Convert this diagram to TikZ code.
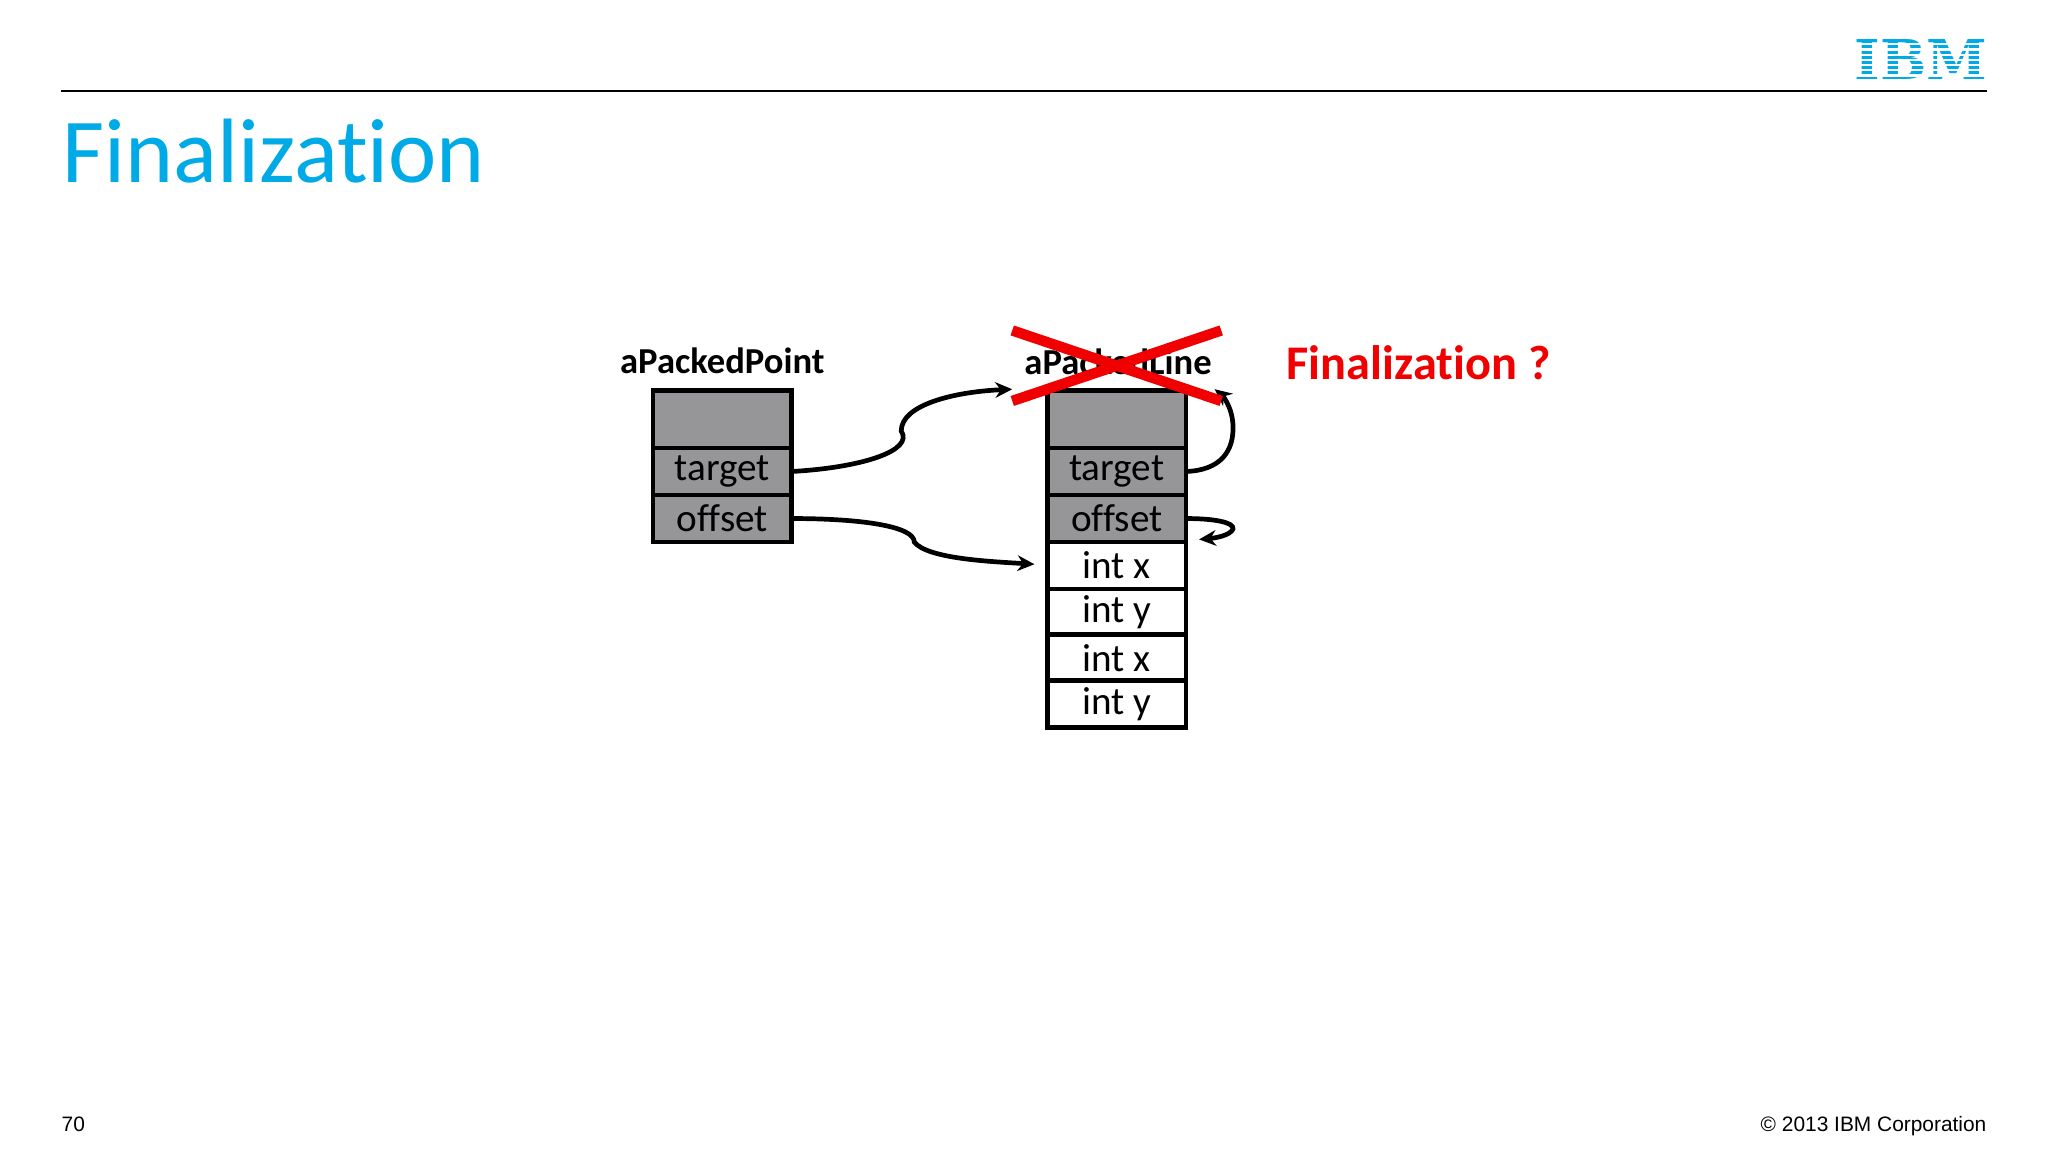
\documentclass[tikz,border=0pt]{standalone}
\usepackage{fontspec}
\setmainfont[Ligatures={NoCommon,NoRare}]{Carlito}
\newfontfamily\arialf{Liberation Sans}
\usetikzlibrary{arrows.meta}
\definecolor{ibmblue}{RGB}{0,170,230}
\definecolor{cellgray}{RGB}{150,150,152}
\definecolor{xred}{RGB}{240,0,0}
\begin{document}
\begin{tikzpicture}[x=1pt,y=-1pt,
  cell/.style={draw=black,line width=3.5pt,minimum width=106pt,minimum height=36pt,inner sep=0pt,outer sep=0pt,font=\fontsize{30}{30}\selectfont,anchor=north west},
  gcell/.style={cell,fill=cellgray},
  wcell/.style={cell,fill=white},
  lab/.style={font=\bfseries\fontsize{28}{28}\selectfont},
  conn/.style={line width=3.6pt,-{Stealth[length=13pt,width=12pt]}}]
\useasboundingbox (0,0) rectangle (1568,882);
\fill[white] (0,0) rectangle (1568,882);
\draw[line width=1.5pt] (47,70) -- (1521,70);
\node[anchor=south east,inner sep=0pt,text=ibmblue,font=\fontspec{DejaVu Serif}\bfseries\fontsize{42}{42}\selectfont] (ibm) at (1522,61) {IBM};
\foreach \yy in {33,37,41,45,49,53,57} \fill[white] (1410,\yy) rectangle (1530,\yy+1.7);
\node[anchor=base west,inner sep=0pt,text=ibmblue,font=\fontsize{70}{70}\selectfont] (title) at (48,140) {Finalization};
% left object
\node[gcell,minimum height=44pt] (p0) at (500,299) {};
\node[gcell] (p1) at (500,343) {target};
\node[gcell] (p2) at (500,379) {offset};
\node[lab] (plab) at (553,276) {aPackedPoint};
% right object
\node[gcell,minimum height=44pt] (l0) at (802,299) {};
\node[gcell] (l1) at (802,343) {target};
\node[gcell] (l2) at (802,379) {offset};
\node[wcell] (l3) at (802,415) {int x};
\node[wcell] (l4) at (802,451) {int y};
\node[wcell] (l5) at (802,486) {int x};
\node[wcell] (l6) at (802,521) {int y};
\node[lab] (llab) at (856,277) {aPackedLine};
\coordinate (a1) at (775,298);
\coordinate (a2) at (792,432);
\coordinate (a3) at (930,298);
\coordinate (a4) at (918,413);
\draw[conn] (p1.east) .. controls (660,358) and (700,345) .. (690,330) .. controls (690,310) and (730,300) .. (a1);
\draw[conn] (p2.east) .. controls (660,397) and (700,403) .. (700,415) .. controls (710,428) and (760,430) .. (a2);
\draw[conn] (l1.east) .. controls (935,360) and (945,345) .. (944,325) .. controls (943,310) and (935,302) .. (a3);
\draw[conn] (l2.east) .. controls (930,397) and (945,400) .. (944,405) .. controls (942,410) and (930,412) .. (a4);
\draw[xred,line width=8pt] (775,253) -- (935,307);
\draw[xred,line width=8pt] (775,307) -- (935,253);
\node[anchor=west,inner sep=0pt,text=xred,font=\bfseries\fontsize{37}{37}\selectfont] (fq) at (985,278) {Finalization ?};
\node[anchor=base west,inner sep=0pt,font=\arialf\fontsize{16}{16}\selectfont] (pg) at (47,866) {70};
\node[anchor=base east,inner sep=0pt,font=\arialf\fontsize{16}{16}\selectfont] (cp) at (1521,866) {\textcopyright{} 2013 IBM Corporation};
\end{tikzpicture}
\end{document}
